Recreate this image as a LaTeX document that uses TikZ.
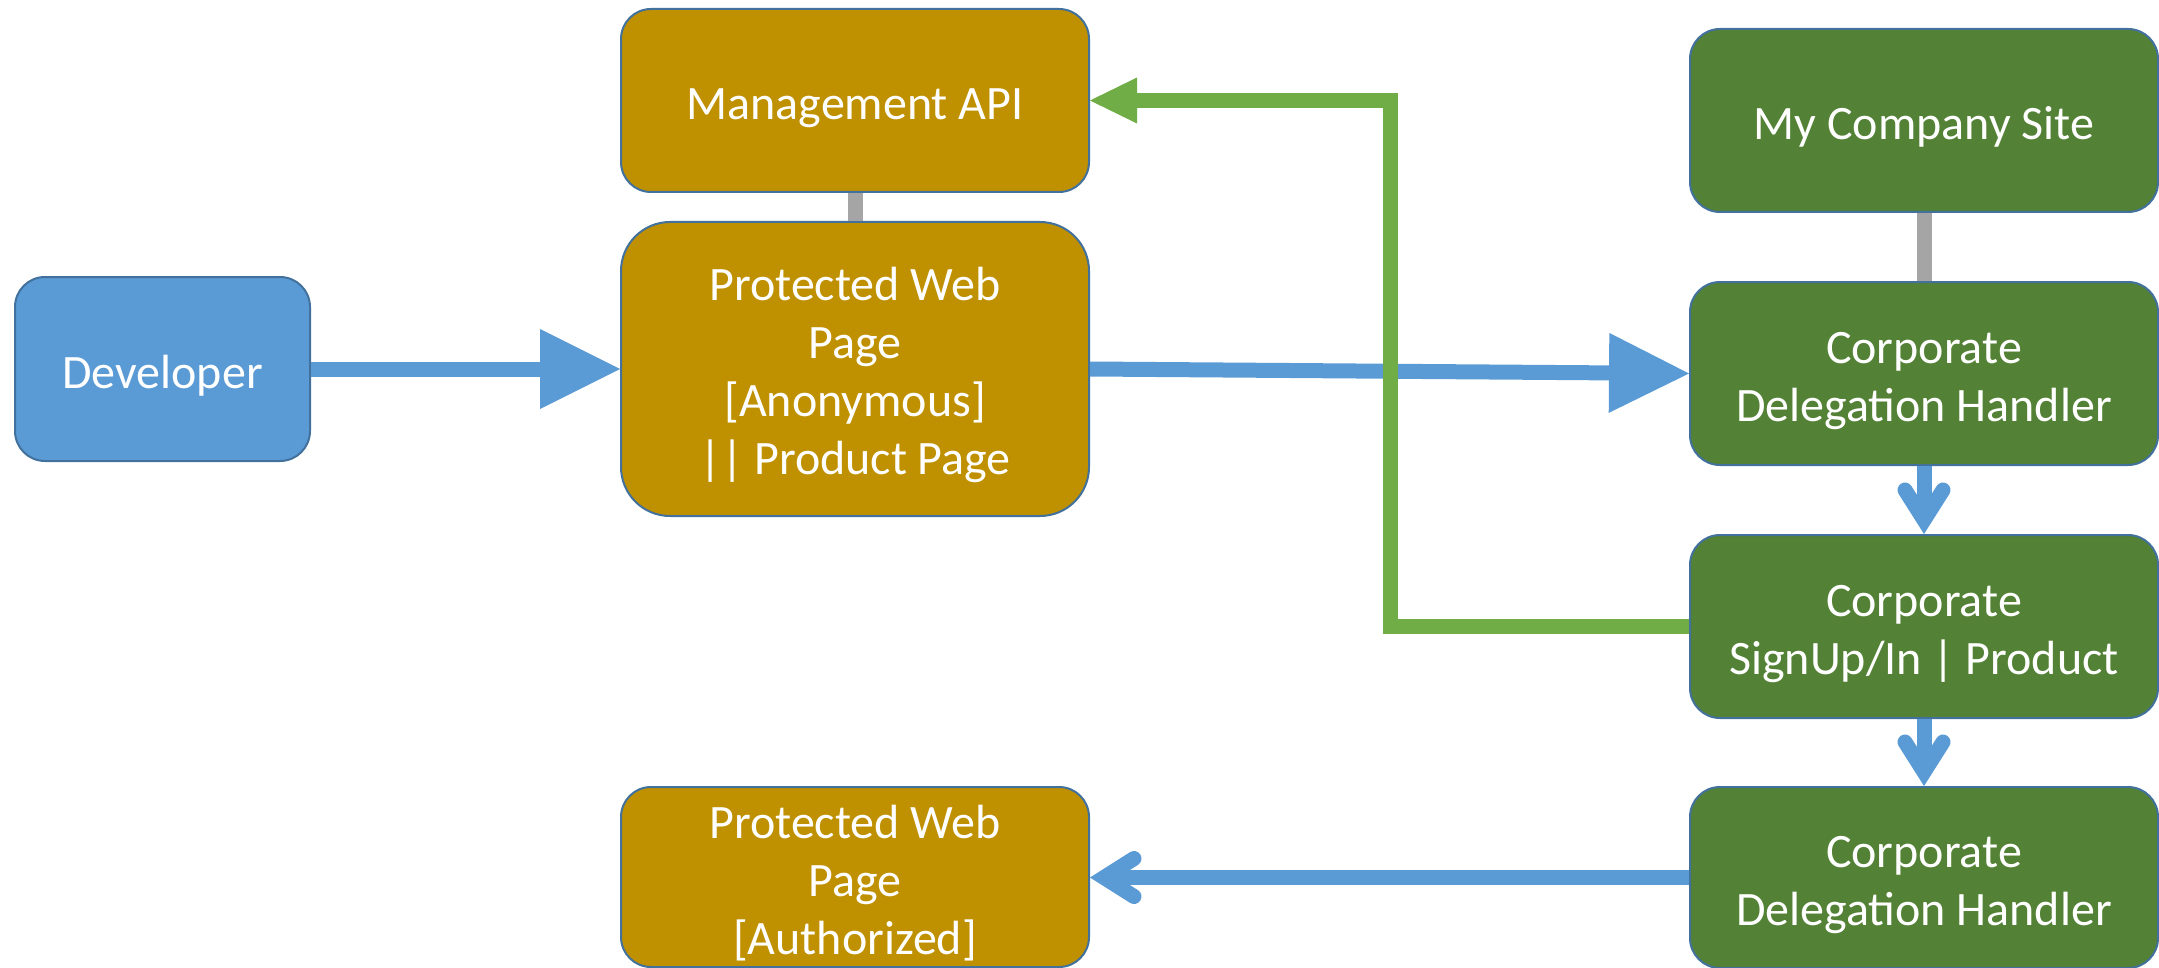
\documentclass[tikz,border=0pt]{standalone}
\usepackage{fontspec}
\setmainfont{Carlito}
\usetikzlibrary{arrows.meta}
\definecolor{cblue}{HTML}{5B9BD5}
\definecolor{cgold}{HTML}{BF9000}
\definecolor{cgreen}{HTML}{538135}
\definecolor{clgreen}{HTML}{70AD47}
\definecolor{cgray}{HTML}{A5A5A5}
\definecolor{cborder}{HTML}{41719C}
\newcommand{\txtstrut}{\rule{0pt}{46pt}}

\pgfdeclarearrow{
  name = BigTri,
  parameters = {\the\pgfarrowlength,\the\pgfarrowwidth},
  setup code = {
    \pgfarrowssettipend{0pt}
    \pgfarrowssetlineend{-.5\pgfarrowlength}
    \pgfarrowssetbackend{-\pgfarrowlength}
    \pgfarrowssavethe\pgfarrowlength
    \pgfarrowssavethe\pgfarrowwidth
  },
  drawing code = {
    \pgfpathmoveto{\pgfqpoint{0pt}{0pt}}
    \pgfpathlineto{\pgfqpoint{-\pgfarrowlength}{.5\pgfarrowwidth}}
    \pgfpathlineto{\pgfqpoint{-\pgfarrowlength}{-.5\pgfarrowwidth}}
    \pgfpathclose
    \pgfusepathqfill
  },
  defaults = {length=80pt, width=80pt}
}

\pgfdeclarearrow{
  name = Chev,
  setup code = {
    \pgfarrowssettipend{0pt}
    \pgfarrowssetlineend{-13pt}
    \pgfarrowssetbackend{-52pt}
  },
  drawing code = {
    \pgfsetlinewidth{15pt}
    \pgfsetroundcap
    \pgfsetmiterjoin
    \pgfpathmoveto{\pgfqpoint{-44pt}{19pt}}
    \pgfpathlineto{\pgfqpoint{-14pt}{0pt}}
    \pgfpathlineto{\pgfqpoint{-44pt}{-19pt}}
    \pgfusepathqstroke
  }
}

\tikzset{
  box/.style={draw=cborder, line width=2pt, rounded corners=30pt,
    minimum width=468pt, minimum height=183pt, inner sep=0pt,
    align=center, text=white,
    font=\fontsize{48pt}{58pt}\selectfont},
  bluebox/.style={box, fill=cblue, minimum width=295pt, minimum height=184pt},
  goldbox/.style={box, fill=cgold},
  greenbox/.style={box, fill=cgreen},
  flow/.style={draw=cblue, line width=15pt},
  bigflow/.style={flow, -{BigTri[length=80pt,width=80pt]}},
  chevflow/.style={flow, -{Chev}},
  greenflow/.style={draw=clgreen, line width=15pt, line join=miter,
    -{BigTri[length=47pt,width=46pt]}},
  link/.style={draw=cgray, line width=15pt}
}

\begin{document}
\begin{tikzpicture}[x=1pt,y=-1pt]
\useasboundingbox (0,0) rectangle (2159,968);

% left and middle column
\node[bluebox] (dev) at (162.5,369) {\txtstrut Developer};
\node[goldbox] (mapi) at (855,100.5) {\txtstrut Management API};
\node[goldbox, minimum height=294pt, rounded corners=49pt] (pwa) at (855,369)
  {\txtstrut Protected Web\\Page\\{}[Anonymous]\\|| Product Page};
\node[goldbox, minimum height=180pt] (pwz) at (855,877)
  {\txtstrut Protected Web\\Page\\{}[Authorized]};

% right column
\node[greenbox] (mcs) at (1924,120.5) {\txtstrut My Company Site};
\node[greenbox] (cdh1) at (1924,373.5) {\txtstrut Corporate\\Delegation Handler};
\node[greenbox] (csu) at (1924,626.5) {\txtstrut Corporate\\SignUp/In | Product};
\node[greenbox, minimum height=181pt] (cdh2) at (1924,877.5) {\txtstrut Corporate\\Delegation Handler};

\coordinate (gbend) at (1390,0);

% connectors
\draw[link] (mapi.south) -- (pwa.north);
\draw[link] (mcs.south) -- (cdh1.north);
\draw[bigflow] (dev.east) -- (pwa.west);
\draw[bigflow] (pwa.east) -- (cdh1.west);
\draw[chevflow] (cdh1.south) -- (csu.north);
\draw[chevflow] (csu.south) -- (cdh2.north);
\draw[chevflow] (cdh2.west) -- (cdh2.west -| pwz.east);
\draw[greenflow] (csu.west) -- (csu.west -| gbend) |- (mapi.east);
\end{tikzpicture}
\end{document}
